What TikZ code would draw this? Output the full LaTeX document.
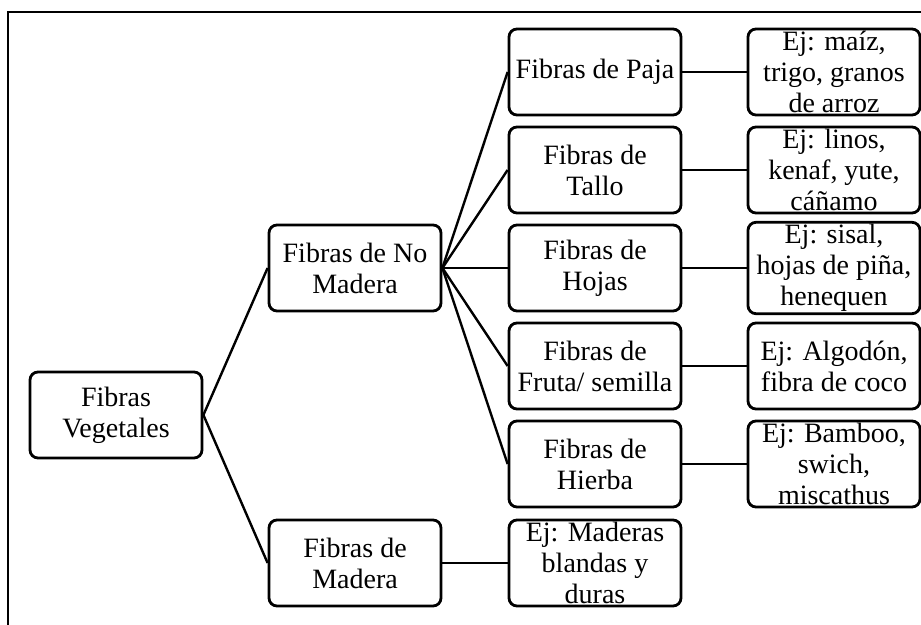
\documentclass[tikz,border=0pt]{standalone}
\usepackage{fontspec}
\setmainfont{Liberation Serif}
\usetikzlibrary{positioning}

\tikzset{
  fibra/.style={draw, rectangle, rounded corners=4pt, line width=1.4pt,
    minimum width=86pt, minimum height=43pt, inner sep=1pt, align=center,
    font=\fontsize{14}{15.5}\selectfont},
  rama/.style={line width=1.2pt}
}

\begin{document}
\begin{tikzpicture}[node distance=49pt, on grid]
                \useasboundingbox (0,0) rectangle (460.5pt,-312.5pt);
                \draw[line width=1.2pt] (4pt,-312.5pt) -- (4pt,-6pt) -- (460.5pt,-6pt);

                % ROOT
                \node[fibra] (veg) at (58pt,-207.5pt) {Fibras\\Vegetales};

                % FIRST LEVEL
                \node[fibra] (nomad) [above right=73.5pt and 119.5pt of veg] {Fibras de No\\Madera};
                \node[fibra] (mad) [below right=74pt and 119.5pt of veg] {Fibras de\\Madera};

                % NO MADERA
                \node[fibra] (hojas) [right=120pt of nomad] {Fibras de\\Hojas};
                \node[fibra] (tallo) [above=of hojas] {Fibras de\\Tallo};
                \node[fibra] (paja) [above=of tallo] {Fibras de Paja};
                \node[fibra] (fruta) [below=of hojas] {Fibras de\\Fruta/ semilla};
                \node[fibra] (hierba) [below=of fruta] {Fibras de\\Hierba};

                % MADERA
                \node[fibra] (ejmad) [right=120pt of mad] {Ej: Maderas\\blandas y\\duras};

                % EXAMPLES
                \node[fibra] (ejpaja) [right=119.5pt of paja] {Ej: maíz,\\trigo, granos\\de arroz};
                \node[fibra] (ejtallo) [right=119.5pt of tallo] {Ej: linos,\\kenaf, yute,\\cáñamo};
                \node[fibra] (ejhojas) [right=119.5pt of hojas] {Ej: sisal,\\hojas de piña,\\henequen};
                \node[fibra] (ejfruta) [right=119.5pt of fruta] {Ej: Algodón,\\fibra de coco};
                \node[fibra] (ejhierba) [right=119.5pt of hierba] {Ej: Bamboo,\\swich,\\miscathus};

                % BRANCHES
                \draw[rama] (veg.east) -- (nomad.west);
                \draw[rama] (veg.east) -- (mad.west);
                \foreach \b in {paja, tallo, hojas, fruta, hierba}
                    \draw[rama] (nomad.east) -- (\b.west);
                \draw[rama] (mad) -- (ejmad);
                \draw[rama] (paja) -- (ejpaja);
                \draw[rama] (tallo) -- (ejtallo);
                \draw[rama] (hojas) -- (ejhojas);
                \draw[rama] (fruta) -- (ejfruta);
                \draw[rama] (hierba) -- (ejhierba);

            \end{tikzpicture}
\end{document}
